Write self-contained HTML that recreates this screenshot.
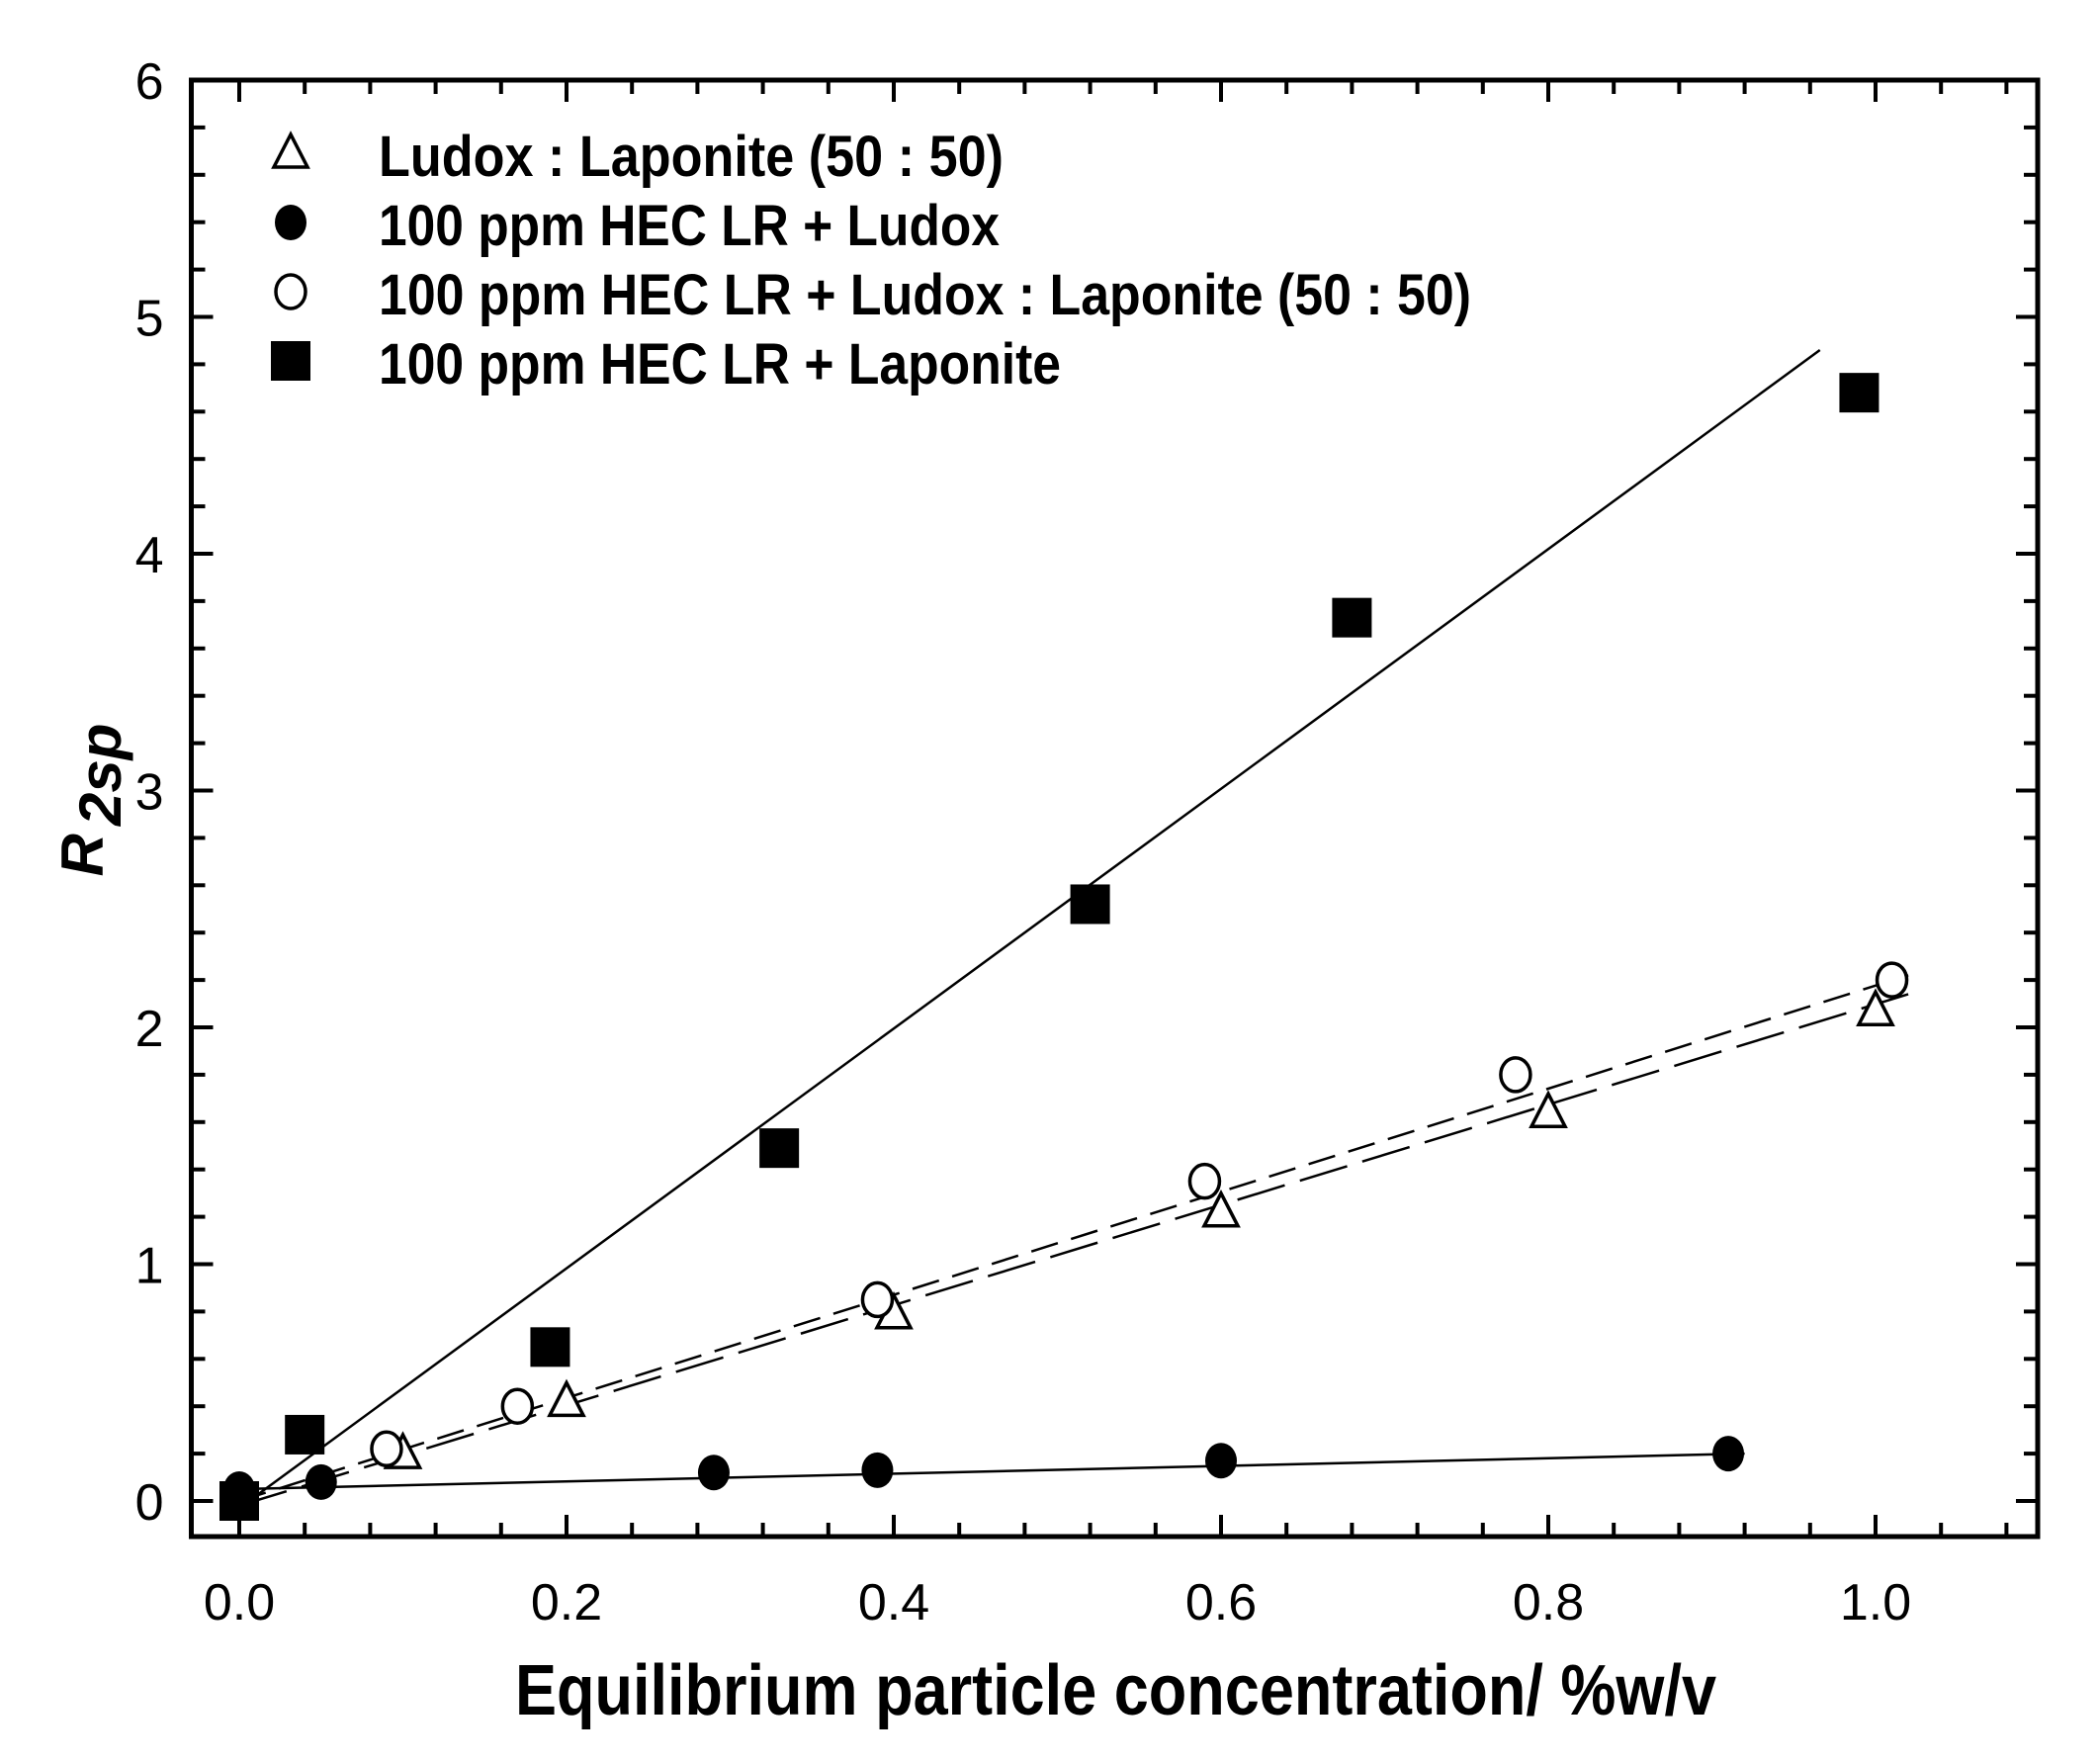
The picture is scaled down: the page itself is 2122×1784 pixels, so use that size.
<!DOCTYPE html>
<html><head><meta charset="utf-8"><style>
html,body{margin:0;padding:0;background:#fff;}
svg{display:block;}
.t{font-family:"Liberation Sans",Arial,sans-serif;font-size:52px;}
.b{font-family:"Liberation Sans Narrow","Liberation Sans",sans-serif;font-weight:bold;}
</style></head><body>
<svg id="s" width="2122" height="1784" viewBox="0 0 2122 1784" xmlns="http://www.w3.org/2000/svg"></svg>
<script>
const s=document.getElementById('s');
const X=v=>242+1655*v, Y=v=>1518-239.5*v;
const L=193.5,R=2061,T=81,B=1554;
let h='';
h+=`<rect x="${L}" y="${T}" width="${R-L}" height="${B-T}" fill="none" stroke="#000" stroke-width="5"/>`;
for(let i=0;i<=27;i++){const v=i*0.04;const x=X(v);if(x<L+3||x>R-3)continue;const maj=i%5==0;const len=maj?22:14;
h+=`<line x1="${x}" y1="${B}" x2="${x}" y2="${B-len}" stroke="#000" stroke-width="4"/><line x1="${x}" y1="${T}" x2="${x}" y2="${T+len}" stroke="#000" stroke-width="4"/>`;
if(maj&&i<=25)h+=`<text class="t" x="${x}" y="${B+84}" text-anchor="middle">${(v).toFixed(1)}</text>`;}
for(let i=0;i<=30;i++){const v=i*0.2;const y=Y(v);const maj=i%5==0;const len=maj?22:14;
h+=`<line x1="${L}" y1="${y}" x2="${L+len}" y2="${y}" stroke="#000" stroke-width="4"/><line x1="${R}" y1="${y}" x2="${R-len}" y2="${y}" stroke="#000" stroke-width="4"/>`;
if(maj)h+=`<text class="t" x="${L-28}" y="${y+19}" text-anchor="end">${v/1}</text>`;}
h+=`<line x1="${X(0)}" y1="${Y(-0.03)}" x2="${X(0.966)}" y2="${Y(4.86)}" stroke="#000" stroke-width="2.5"/>`;
h+=`<line x1="${X(0)}" y1="${Y(0.05)}" x2="${X(0.92)}" y2="${Y(0.2)}" stroke="#000" stroke-width="2.5"/>`;
h+=`<line x1="${X(0)}" y1="${Y(0)}" x2="${X(1.02)}" y2="${Y(2.22)}" stroke="#000" stroke-width="2.5" stroke-dasharray="28,14"/>`;
h+=`<line x1="${X(0)}" y1="${Y(-0.02)}" x2="${X(1.02)}" y2="${Y(2.14)}" stroke="#000" stroke-width="2.5" stroke-dasharray="50,16"/>`;
const tri=(x,y)=>`<polygon points="${x},${y-19} ${x-17},${y+14} ${x+17},${y+14}" fill="#fff" stroke="#000" stroke-width="3.5"/>`;
const oc=(x,y)=>`<ellipse cx="${x}" cy="${y}" rx="15" ry="17" fill="#fff" stroke="#000" stroke-width="3.5"/>`;
const fc=(x,y)=>`<ellipse cx="${x}" cy="${y}" rx="16" ry="18" fill="#000"/>`;
const sq=(x,y)=>`<rect x="${x-20}" y="${y-20}" width="40" height="40" fill="#000"/>`;
[[0,0],[0.1,0.2],[0.2,0.42],[0.4,0.79],[0.6,1.22],[0.8,1.64],[1.0,2.07]].forEach(p=>h+=tri(X(p[0]),Y(p[1])));
[[0,0.03],[0.09,0.22],[0.17,0.4],[0.39,0.85],[0.59,1.35],[0.78,1.8],[1.01,2.2]].forEach(p=>h+=oc(X(p[0]),Y(p[1])));
[[0,0.05],[0.05,0.08],[0.29,0.12],[0.39,0.13],[0.6,0.17],[0.91,0.2]].forEach(p=>h+=fc(X(p[0]),Y(p[1])));
[[0,0],[0.04,0.28],[0.19,0.65],[0.33,1.49],[0.52,2.52],[0.68,3.73],[0.99,4.68]].forEach(p=>h+=sq(X(p[0]),Y(p[1])));
h+=tri(294,155)+fc(294,225)+oc(294,295)+sq(294,365);
const lt=["Ludox : Laponite (50 : 50)","100 ppm HEC LR + Ludox","100 ppm HEC LR + Ludox : Laponite (50 : 50)","100 ppm HEC LR + Laponite"];
const lw=[632,628,1105,690];
lt.forEach((t,i)=>h+=`<text class="b" x="383" y="${178+i*70}" font-size="58" textLength="${lw[i]}" lengthAdjust="spacingAndGlyphs">${t}</text>`);
h+=`<text class="b" x="521" y="1734" font-size="72" textLength="1215" lengthAdjust="spacingAndGlyphs">Equilibrium particle concentration/ %w/v</text>`;
h+=`<text class="b" transform="translate(104,809) rotate(-90)" font-size="60" font-style="italic" text-anchor="middle">R<tspan dx="8" dy="18">2sp</tspan></text>`;
s.innerHTML=h;
</script>
</body></html>
